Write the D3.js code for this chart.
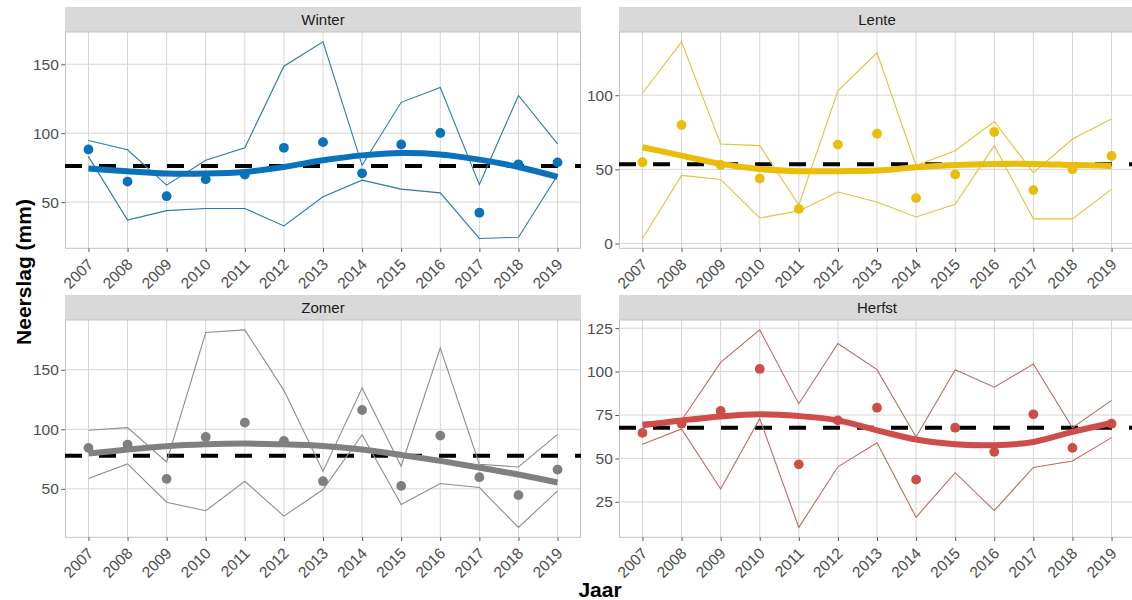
<!DOCTYPE html>
<html>
<head>
<meta charset="utf-8">
<script src="https://cdn.jsdelivr.net/npm/d3@7"></script>
<style>
  html, body { margin: 0; padding: 0; background: #ffffff; }
  svg { display: block; font-family: "Liberation Sans", Arial, Helvetica, sans-serif; }
</style>
</head>
<body>
<svg id="chart" width="1132" height="600"></svg>
<script>
// Seasonal precipitation (mm) per year: seasonal mean, range between
// stations (upper/lower), smoothed trend and long-term average.
const years = ["2007","2008","2009","2010","2011","2012","2013","2014","2015","2016","2017","2018","2019"];
const seasons = ["Winter", "Lente", "Zomer", "Herfst"];

const winterMean   = [88.2, 64.9, 54.3, 66.6, 70.0, 89.4, 93.5, 70.9, 91.8, 100.2, 42.3, 77.4, 78.8];
const winterUpper  = [94.7, 88.0, 62.3, 80.3, 89.4, 148.6, 166.3, 76.7, 122.4, 133.2, 62.7, 127.4, 92.3];
const winterLower  = [83.0, 37.0, 43.8, 45.4, 45.4, 32.7, 53.8, 65.9, 59.4, 56.7, 23.6, 24.5, 69.5];
const winterSmooth = [74.3, 72.4, 70.7, 70.7, 71.9, 75.5, 80.3, 83.9, 85.6, 84.6, 80.8, 75.5, 68.3];
const winterAvg = 76.2;

const lenteMean   = [54.8, 79.9, 53.0, 43.8, 23.3, 66.7, 74.0, 30.6, 46.5, 75.2, 36.0, 50.1, 59.0];
const lenteUpper  = [101.3, 136.0, 67.1, 66.0, 26.0, 102.9, 128.6, 52.6, 62.6, 82.3, 47.7, 70.5, 83.9];
const lenteLower  = [3.4, 45.9, 43.2, 17.2, 22.0, 34.7, 28.0, 17.9, 26.4, 66.0, 16.6, 16.6, 36.5];
const lenteSmooth = [64.9, 59.3, 53.7, 50.3, 48.8, 48.8, 49.2, 51.5, 53.0, 53.7, 53.7, 53.0, 52.3];
const lenteAvg = 53.5;

const zomerMean   = [84.4, 87.2, 58.4, 93.6, 105.6, 90.2, 56.4, 116.2, 52.5, 94.7, 59.8, 44.7, 66.2];
const zomerUpper  = [99.2, 101.4, 72.6, 181.3, 183.5, 132.7, 64.8, 134.6, 69.0, 168.2, 70.7, 68.4, 95.8];
const zomerLower  = [58.7, 70.9, 38.8, 31.6, 56.4, 27.1, 49.4, 95.5, 36.9, 54.5, 51.1, 17.6, 48.3];
const zomerSmooth = [79.6, 83.0, 85.8, 87.4, 88.0, 87.4, 86.0, 83.0, 78.5, 73.5, 67.9, 62.0, 55.3];
const zomerAvg = 77.7;

const herfstMean   = [64.7, 70.0, 77.3, 101.5, 46.6, 71.9, 79.2, 37.8, 67.7, 53.8, 75.4, 56.1, 70.0];
const herfstUpper  = [71.0, 72.0, 105.3, 124.0, 81.5, 116.2, 101.1, 62.4, 101.1, 91.0, 104.4, 67.7, 83.4];
const herfstLower  = [58.2, 67.0, 32.4, 72.9, 10.3, 45.2, 59.0, 16.2, 41.8, 20.0, 44.8, 48.5, 62.0];
const herfstSmooth = [69.1, 71.9, 74.2, 75.4, 74.4, 71.9, 66.2, 60.9, 58.2, 57.6, 59.5, 65.3, 70.4];
const herfstAvg = 67.6;

const winterTicks = [50, 100, 150];
const lenteTicks  = [0, 50, 100];
const zomerTicks  = [50, 100, 150];
const herfstTicks = [25, 50, 75, 100, 125];

const xTitle = "Jaar";
const yTitle = "Neerslag (mm)";

// Panel table built from the arrays above
const panels = [
  { name: seasons[0], mean: winterMean, upper: winterUpper, lower: winterLower, smooth: winterSmooth, avg: winterAvg, ticks: winterTicks },
  { name: seasons[1], mean: lenteMean,  upper: lenteUpper,  lower: lenteLower,  smooth: lenteSmooth,  avg: lenteAvg,  ticks: lenteTicks },
  { name: seasons[2], mean: zomerMean,  upper: zomerUpper,  lower: zomerLower,  smooth: zomerSmooth,  avg: zomerAvg,  ticks: zomerTicks },
  { name: seasons[3], mean: herfstMean, upper: herfstUpper, lower: herfstLower, smooth: herfstSmooth, avg: herfstAvg, ticks: herfstTicks }
];

const colors = {
  Winter: { point: "#0a72bb", line: "#2a78ae", smooth: "#0a72bb" },
  Lente:  { point: "#e9bd0a", line: "#e2c23a", smooth: "#e9bd0a" },
  Zomer:  { point: "#7f7f7f", line: "#8e8e8e", smooth: "#808080" },
  Herfst: { point: "#cf4d48", line: "#bd6a64", smooth: "#cf4d48" }
};

// Layout
const cols = [{ x0: 65, x1: 581 }, { x0: 619, x1: 1135 }];
const rows = [{ strip: 7, top: 32, bottom: 248.3 }, { strip: 295, top: 320, bottom: 537.3 }];
const stripH = 25;

const svg = d3.select("#chart");

panels.forEach((p, i) => {
  const c = cols[i % 2], r = rows[Math.floor(i / 2)];
  const col = colors[p.name];

  const x = d3.scalePoint().domain(years).range([c.x0, c.x1]).padding(0.6);

  const all = [].concat(p.mean, p.upper, p.lower, p.smooth, [p.avg]);
  const lo = d3.min(all), hi = d3.max(all), pad = (hi - lo) * 0.05;
  const y = d3.scaleLinear().domain([lo - pad, hi + pad]).range([r.bottom, r.top]);

  const g = svg.append("g");

  // strip
  g.append("rect").attr("x", c.x0).attr("y", r.strip).attr("width", c.x1 - c.x0).attr("height", stripH)
    .attr("fill", "#d9d9d9");
  g.append("text").attr("x", (c.x0 + c.x1) / 2).attr("y", r.strip + stripH / 2 + 5.3)
    .attr("text-anchor", "middle").attr("font-size", 15).attr("fill", "#1a1a1a").text(p.name);

  // panel background and grid
  g.append("rect").attr("x", c.x0).attr("y", r.top).attr("width", c.x1 - c.x0).attr("height", r.bottom - r.top)
    .attr("fill", "#ffffff");
  g.append("g").selectAll("line").data(p.ticks).join("line")
    .attr("x1", c.x0).attr("x2", c.x1).attr("y1", d => y(d)).attr("y2", d => y(d))
    .attr("stroke", "#d6d6d6").attr("stroke-width", 1);
  g.append("g").selectAll("line").data(years).join("line")
    .attr("x1", d => x(d)).attr("x2", d => x(d)).attr("y1", r.top).attr("y2", r.bottom)
    .attr("stroke", "#d6d6d6").attr("stroke-width", 1);
  g.append("rect").attr("x", c.x0 + 0.5).attr("y", r.top).attr("width", c.x1 - c.x0 - 1).attr("height", r.bottom - r.top)
    .attr("fill", "none").attr("stroke", "#c4c4c4").attr("stroke-width", 1);

  // axes
  const yAxis = d3.axisLeft(y).tickValues(p.ticks).tickSize(3.7).tickPadding(2.5);
  const ya = g.append("g").attr("transform", `translate(${c.x0},0)`).call(yAxis);
  ya.select(".domain").remove();
  ya.selectAll(".tick line").attr("stroke", "#555");
  ya.selectAll(".tick text").attr("font-size", 15.5).attr("fill", "#4d4d4d").attr("font-family", null);

  const xAxis = d3.axisBottom(x).tickSize(3.7).tickPadding(0);
  const xa = g.append("g").attr("transform", `translate(0,${r.bottom})`).call(xAxis);
  xa.select(".domain").remove();
  xa.selectAll(".tick line").attr("stroke", "#555");
  xa.selectAll(".tick text")
    .attr("font-size", 15.5).attr("fill", "#4d4d4d").attr("font-family", null)
    .attr("text-anchor", "end").attr("dy", null).attr("y", 0)
    .attr("transform", "translate(5.5,17) rotate(-45)");

  const plot = g.append("g");

  // long-term average
  plot.append("line").attr("x1", c.x0).attr("x2", c.x1).attr("y1", y(p.avg)).attr("y2", y(p.avg))
    .attr("stroke", "#000").attr("stroke-width", 4).attr("stroke-dasharray", "17,17");

  // station range lines
  const thin = d3.line().x((d, k) => x(years[k])).y(d => y(d));
  [p.upper, p.lower].forEach(arr => {
    plot.append("path").datum(arr).attr("d", thin).attr("fill", "none")
      .attr("stroke", col.line).attr("stroke-width", 1.1);
  });

  // smoothed trend
  const smooth = d3.line().x((d, k) => x(years[k])).y(d => y(d)).curve(d3.curveCatmullRom.alpha(0.5));
  plot.append("path").datum(p.smooth).attr("d", smooth).attr("fill", "none")
    .attr("stroke", col.smooth).attr("stroke-width", 6).attr("stroke-linecap", "butt");

  // seasonal means
  plot.append("g").selectAll("circle").data(p.mean).join("circle")
    .attr("cx", (d, k) => x(years[k])).attr("cy", d => y(d)).attr("r", 4.9)
    .attr("fill", col.point);
});

// axis titles
svg.append("text").attr("x", 600).attr("y", 597).attr("text-anchor", "middle")
  .attr("font-size", 21).attr("font-weight", "bold").attr("fill", "#000").text(xTitle);
svg.append("text").attr("transform", "translate(31,272) rotate(-90)").attr("text-anchor", "middle")
  .attr("font-size", 21).attr("font-weight", "bold").attr("fill", "#000").text(yTitle);
</script>
</body>
</html>
